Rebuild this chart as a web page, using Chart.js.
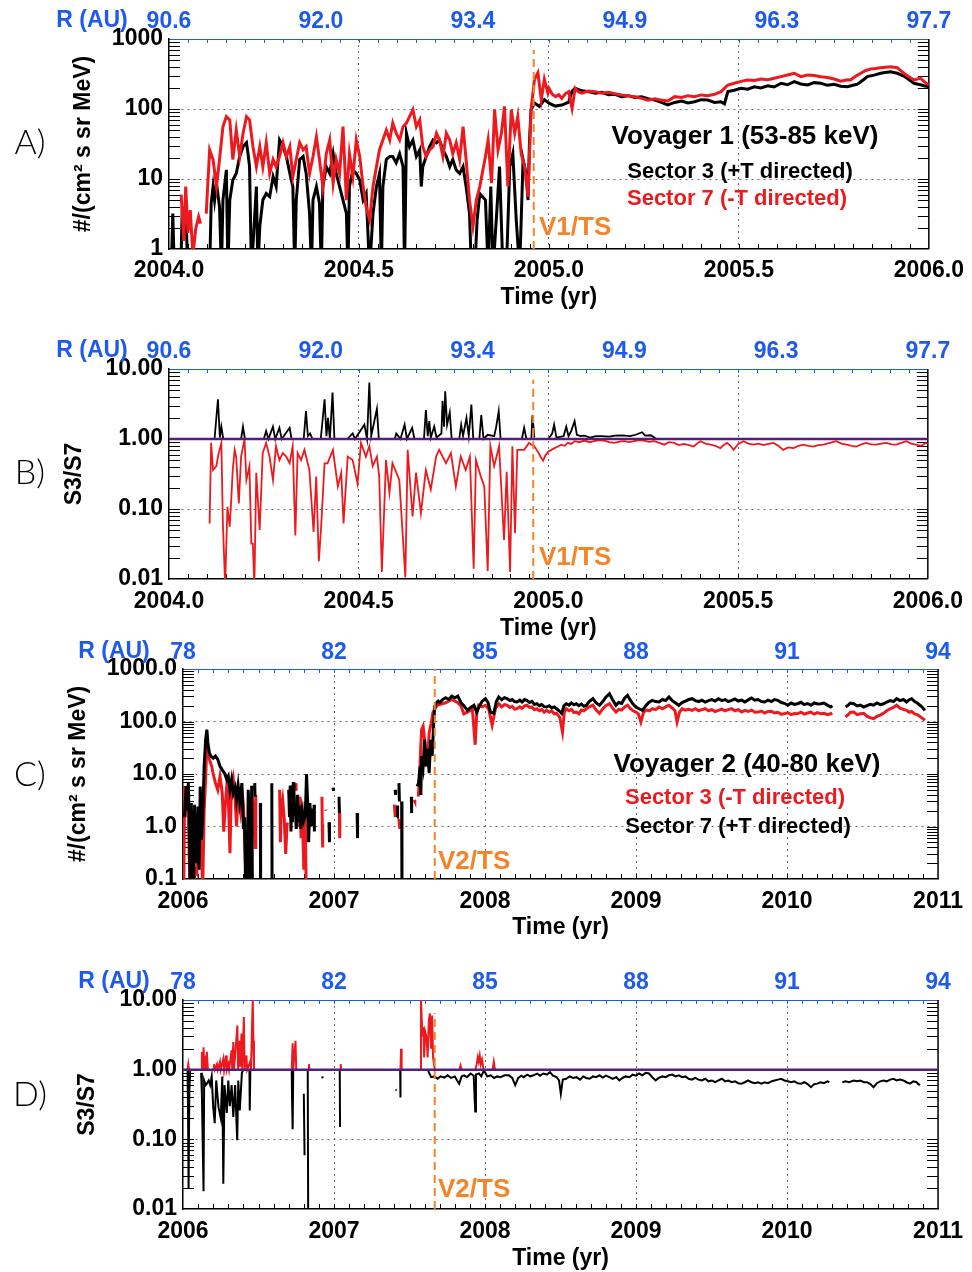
<!DOCTYPE html>
<html>
<head>
<meta charset="utf-8">
<script src="https://cdn.jsdelivr.net/npm/chart.js@4.4.1/dist/chart.umd.min.js"></script>
<style>
  html, body { margin: 0; padding: 0; background: #fff; }
  #page { position: relative; width: 972px; height: 1272px; background: #fff; overflow: hidden; }
  #page canvas { position: absolute; left: 0; }
</style>
</head>
<body>
<div id="page">
  <canvas id="panelA"></canvas>
  <canvas id="panelB"></canvas>
  <canvas id="panelC"></canvas>
  <canvas id="panelD"></canvas>
</div>
<script>
// --- axes: Voyager 1 (A, B) and Voyager 2 (C, D)
const v1TimeTicks = [2004.0, 2004.5, 2005.0, 2005.5, 2006.0];
const v1TimeLabels = ['2004.0', '2004.5', '2005.0', '2005.5', '2006.0'];
const v1RadiusTicks = [2004.0, 2004.4, 2004.8, 2005.2, 2005.6, 2006.0];
const v1RadiusLabels = ['90.6', '92.0', '93.4', '94.9', '96.3', '97.7'];
const v1TsYear = 2004.96;

const v2TimeTicks = [2006, 2007, 2008, 2009, 2010, 2011];
const v2TimeLabels = ['2006', '2007', '2008', '2009', '2010', '2011'];
const v2RadiusTicks = [2006, 2007, 2008, 2009, 2010, 2011];
const v2RadiusLabels = ['78', '82', '85', '88', '91', '94'];
const v2TsYear = 2007.667;

const v1FluxTicks = [1, 10, 100, 1000];
const v1FluxLabels = ['1', '10', '100', '1000'];
const v2FluxTicks = [0.1, 1, 10, 100, 1000];
const v2FluxLabels = ['0.1', '1.0', '10.0', '100.0', '1000.0'];
const ratioTicks = [0.01, 0.1, 1, 10];
const ratioLabels = ['0.01', '0.10', '1.00', '10.00'];

// --- A) Voyager 1 53-85 keV intensities, [year, flux]
const v1S7Flux = [
  [2004.032,6.0],[2004.039,1.3],[2004.044,7.8],[2004.050,1.7],[2004.056,3.6],[2004.063,0.8],[2004.070,1.9],[2004.078,2.9],[2004.083,2.3],[2004.090,null],
  [2004.098,3.2],[2004.107,26],[2004.116,19],[2004.125,7.8],[2004.133,19],[2004.142,56],[2004.151,78],[2004.160,70],[2004.168,19],[2004.177,50],
  [2004.186,21],[2004.195,45],[2004.204,78],[2004.212,70],[2004.221,29],[2004.230,15],[2004.239,29],[2004.247,15],[2004.256,33],[2004.265,12],
  [2004.274,19],[2004.282,15],[2004.291,21],[2004.300,33],[2004.309,21],[2004.318,29],[2004.326,10.8],[2004.335,19],[2004.344,33],[2004.353,26],
  [2004.361,29],[2004.370,12],[2004.379,21],[2004.388,40],[2004.396,19],[2004.405,7.8],[2004.414,23],[2004.423,36],[2004.432,8.7],[2004.440,19],
  [2004.449,12],[2004.458,56],[2004.467,5.0],[2004.475,23],[2004.484,10.8],[2004.493,36],[2004.502,21],[2004.511,7.8],[2004.519,4.0],[2004.528,2.6],
  [2004.537,7.8],[2004.546,15],[2004.554,26],[2004.563,36],[2004.572,50],[2004.581,36],[2004.589,63],[2004.598,45],[2004.607,36],[2004.616,56],
  [2004.625,63],[2004.633,78],[2004.642,98],[2004.651,56],[2004.660,70],[2004.668,29],[2004.677,21],[2004.686,26],[2004.695,29],[2004.704,45],
  [2004.712,36],[2004.721,21],[2004.730,45],[2004.739,36],[2004.747,23],[2004.756,33],[2004.765,19],[2004.774,56],[2004.782,19],[2004.791,5.0],
  [2004.800,2.1],[2004.809,5.0],[2004.818,7.8],[2004.833,21],[2004.840,36],[2004.849,8.7],[2004.857,98],[2004.866,26],[2004.875,45],[2004.883,109],
  [2004.892,7.8],[2004.901,98],[2004.910,45],[2004.918,78],[2004.927,23],[2004.936,15],[2004.945,5.6],[2004.953,98],[2004.962,265],[2004.971,330],
  [2004.980,136],[2004.988,265],[2004.997,170],
  [2005.000,198],[2005.008,165],[2005.017,150],[2005.026,160],[2005.034,142],[2005.043,165],[2005.052,177],[2005.061,102],[2005.069,198],[2005.078,175],
  [2005.087,168],[2005.104,180],[2005.122,177],[2005.139,168],[2005.157,173],[2005.174,165],[2005.191,159],[2005.209,154],[2005.226,150],[2005.244,142],
  [2005.261,134],[2005.279,140],[2005.296,134],[2005.313,130],[2005.331,150],[2005.349,146],[2005.366,155],[2005.383,150],[2005.401,159],[2005.418,155],
  [2005.436,162],[2005.453,177],[2005.471,220],[2005.488,233],[2005.506,248],[2005.523,260],[2005.541,255],[2005.558,268],[2005.576,262],[2005.593,275],
  [2005.611,290],[2005.628,306],[2005.646,324],[2005.663,290],[2005.681,305],[2005.698,300],[2005.716,288],[2005.733,281],[2005.751,268],[2005.768,250],
  [2005.786,262],[2005.794,260],[2005.808,295],[2005.821,324],[2005.834,355],[2005.847,373],[2005.860,380],[2005.873,389],[2005.886,395],[2005.899,402],
  [2005.917,389],[2005.934,324],[2005.947,290],[2005.961,260],[2005.978,275],[2005.990,240],[2006.000,220]
];
const v1S3Flux = [
  [2004.006,0.5],[2004.010,3.2],[2004.014,0.5],[2004.020,null],
  [2004.031,0.5],[2004.035,4.0],[2004.040,1.9],[2004.044,5.0],[2004.049,0.5],[2004.060,null],
  [2004.107,0.5],[2004.111,4.5],[2004.116,7.8],[2004.120,5.0],[2004.125,8.7],[2004.133,4.0],[2004.138,0.5],[2004.142,5.0],[2004.151,13.5],[2004.155,0.5],
  [2004.160,5.0],[2004.168,9.7],[2004.177,12],[2004.186,21],[2004.195,29],[2004.204,33],[2004.208,23],[2004.212,15],[2004.217,0.5],[2004.223,1.7],
  [2004.230,7.8],[2004.234,0.5],[2004.239,2.1],[2004.247,5.0],[2004.256,6.2],[2004.265,5.6],[2004.274,10.8],[2004.282,7.8],[2004.291,36],[2004.300,29],
  [2004.309,21],[2004.318,12],[2004.326,7.8],[2004.331,0.5],[2004.335,5.0],[2004.344,19],[2004.353,21],[2004.361,12],[2004.370,3.2],[2004.375,0.5],
  [2004.379,5.0],[2004.388,7.8],[2004.396,4.5],[2004.401,0.5],[2004.405,7.8],[2004.414,15],[2004.423,12],[2004.432,23],[2004.440,12],[2004.449,7.8],
  [2004.458,5.0],[2004.467,3.2],[2004.471,0.5],[2004.475,7.8],[2004.484,13.5],[2004.493,12],[2004.502,9.7],[2004.511,5.0],[2004.519,6.2],[2004.528,0.5],
  [2004.537,3.2],[2004.546,7.8],[2004.554,12],[2004.559,0.5],[2004.563,7.8],[2004.572,19],[2004.581,21],[2004.589,21],[2004.598,17],[2004.607,23],
  [2004.616,15],[2004.620,0.5],[2004.625,45],[2004.633,29],[2004.642,36],[2004.651,21],[2004.660,26],[2004.664,7.8],[2004.668,15],[2004.677,21],
  [2004.686,29],[2004.695,36],[2004.704,33],[2004.712,36],[2004.721,26],[2004.730,21],[2004.739,15],[2004.747,19],[2004.756,13.5],[2004.765,12],
  [2004.774,15],[2004.782,7.8],[2004.791,3.2],[2004.796,0.5],[2004.805,0.5],[2004.811,2.6],[2004.818,6.2],[2004.833,5.0],[2004.840,0.5],[2004.847,7.8],
  [2004.853,0.5],[2004.862,2.9],[2004.870,15],[2004.879,0.5],[2004.888,0.5],[2004.897,15],[2004.905,23],[2004.914,2.6],[2004.923,0.5],[2004.932,19],
  [2004.940,12],[2004.945,5.0],[2004.949,36],[2004.953,98],[2004.962,122],[2004.975,109],[2004.988,136],
  [2005.000,121],[2005.017,110],[2005.034,114],[2005.052,125],[2005.061,180],[2005.069,198],[2005.087,182],[2005.104,177],[2005.122,168],[2005.139,173],
  [2005.157,160],[2005.174,162],[2005.191,150],[2005.209,155],[2005.226,146],[2005.244,150],[2005.261,140],[2005.279,134],[2005.296,124],[2005.313,114],
  [2005.331,124],[2005.349,130],[2005.366,122],[2005.383,127],[2005.401,136],[2005.418,134],[2005.436,124],[2005.453,127],[2005.462,118],[2005.471,177],
  [2005.488,185],[2005.506,198],[2005.523,192],[2005.541,208],[2005.558,200],[2005.576,215],[2005.593,206],[2005.611,233],[2005.628,222],[2005.646,246],
  [2005.663,228],[2005.681,220],[2005.698,238],[2005.716,233],[2005.733,218],[2005.751,226],[2005.768,212],[2005.786,208],[2005.803,220],[2005.812,226],
  [2005.828,262],[2005.838,290],[2005.856,305],[2005.873,324],[2005.890,335],[2005.899,341],[2005.917,324],[2005.934,296],[2005.943,275],[2005.961,233],
  [2005.978,222],[2005.987,215],[2006.000,208]
];

// --- B) Voyager 1 ratio S3/S7: above 1 (black) and below 1 (red)
const v1RatioAbove = [
  [2004.120,1],[2004.129,3.7],[2004.134,1.05],[2004.138,1.5],[2004.143,1],[2004.170,null],
  [2004.190,1],[2004.195,1.5],[2004.200,1],[2004.225,null],
  [2004.250,1],[2004.256,1.3],[2004.262,1],[2004.274,1.5],[2004.280,1],[2004.291,1.45],[2004.297,1],[2004.318,1.45],[2004.323,1],[2004.340,null],
  [2004.355,1],[2004.361,2.5],[2004.366,1.1],[2004.372,1.2],[2004.378,1],[2004.390,null],
  [2004.400,1],[2004.410,3.7],[2004.415,1.1],[2004.419,2.0],[2004.424,1],[2004.431,4.6],[2004.436,1],[2004.455,null],
  [2004.470,1],[2004.484,1.2],[2004.490,1],[2004.515,1.6],[2004.522,1],[2004.528,6.4],[2004.533,1.1],[2004.548,2.7],[2004.553,1],[2004.575,null],
  [2004.595,1],[2004.599,1.2],[2004.610,1],[2004.621,1.6],[2004.627,1],[2004.641,1.44],[2004.647,1],[2004.660,null],
  [2004.672,1],[2004.677,2.6],[2004.682,1.1],[2004.686,1.8],[2004.690,1.05],[2004.699,1.5],[2004.705,1.05],[2004.718,1.2],[2004.721,3.5],[2004.725,1.5],
  [2004.728,4.8],[2004.733,1.6],[2004.740,2.4],[2004.745,1],[2004.755,null],
  [2004.765,1],[2004.770,1.6],[2004.775,1.1],[2004.784,2.0],[2004.790,1.1],[2004.797,3.1],[2004.802,1],[2004.812,null],
  [2004.818,1],[2004.823,2.2],[2004.829,1],[2004.840,1.15],[2004.857,1.1],[2004.862,1.45],[2004.869,2.5],[2004.874,1],[2004.900,null],
  [2004.930,1],[2004.936,1.45],[2004.942,1],[2004.950,null],
  [2004.955,1],[2004.958,2.2],[2004.963,1.05],[2004.980,null],
  [2005.000,1],[2005.010,1.2],[2005.015,1.6],[2005.021,1.05],[2005.040,1.1],[2005.047,1.5],[2005.053,1.1],[2005.060,1.3],[2005.069,1.8],[2005.075,1.15],
  [2005.085,1.1],[2005.095,1.12],[2005.110,1.05],[2005.125,1.1],[2005.140,1.1],[2005.160,1.08],[2005.175,1.12],[2005.195,1.13],[2005.215,1.1],[2005.230,1.15],
  [2005.247,1.25],[2005.255,1.12],[2005.270,1.13],[2005.285,1.0],[2006.000,1.0]
];
const v1RatioBelow = [
  [2004.107,0.062],[2004.111,0.88],[2004.116,0.36],[2004.125,0.41],[2004.129,0.56],[2004.138,0.88],[2004.142,0.062],[2004.148,0.008],[2004.154,0.108],[2004.160,0.056],
  [2004.164,0.135],[2004.168,0.36],[2004.173,0.70],[2004.177,0.56],[2004.184,0.12],[2004.190,0.56],[2004.199,0.98],[2004.204,0.26],[2004.212,0.41],[2004.217,0.032],
  [2004.221,0.032],[2004.225,0.008],[2004.230,0.33],[2004.239,0.05],[2004.247,0.63],[2004.256,0.88],[2004.265,0.56],[2004.274,0.26],[2004.282,0.79],[2004.291,0.50],
  [2004.300,0.63],[2004.309,0.56],[2004.318,0.45],[2004.326,0.79],[2004.333,0.042],[2004.339,0.63],[2004.348,0.50],[2004.357,0.70],[2004.370,0.36],[2004.381,0.047],
  [2004.388,0.29],[2004.395,0.018],[2004.401,0.056],[2004.410,0.45],[2004.418,0.45],[2004.432,0.70],[2004.445,0.21],[2004.454,0.33],[2004.460,0.062],[2004.471,0.56],
  [2004.484,0.50],[2004.497,0.23],[2004.506,0.88],[2004.519,0.56],[2004.528,0.79],[2004.537,0.41],[2004.548,0.56],[2004.554,0.29],[2004.561,0.0126],[2004.572,0.50],
  [2004.581,0.17],[2004.589,0.45],[2004.607,0.26],[2004.623,0.0105],[2004.629,0.70],[2004.642,0.078],[2004.651,0.33],[2004.664,0.087],[2004.677,0.36],[2004.690,0.19],
  [2004.704,0.56],[2004.712,0.70],[2004.730,0.45],[2004.743,0.63],[2004.756,0.21],[2004.769,0.56],[2004.782,0.36],[2004.793,0.56],[2004.803,0.014],[2004.809,0.50],
  [2004.822,0.29],[2004.831,0.21],[2004.840,0.013],[2004.847,0.79],[2004.857,0.41],[2004.870,0.79],[2004.883,0.036],[2004.890,0.34],[2004.899,0.0126],[2004.905,0.79],
  [2004.912,0.045],[2004.918,0.70],[2004.936,0.70],[2004.949,0.88],[2004.955,0.83],[2004.962,0.80],[2004.972,0.66],[2004.980,0.55],[2004.986,0.49],[2004.992,0.58],
  [2004.999,0.66],[2005.008,0.70],[2005.016,0.74],[2005.025,0.78],[2005.034,0.83],[2005.043,0.80],[2005.051,0.88],[2005.060,0.85],[2005.069,0.93],[2005.082,0.90],
  [2005.095,0.95],[2005.108,0.90],[2005.121,0.93],[2005.134,0.96],[2005.147,0.95],[2005.160,0.90],[2005.174,0.88],[2005.187,0.92],[2005.200,0.93],[2005.213,0.90],
  [2005.226,0.93],[2005.239,0.96],[2005.252,0.95],[2005.265,0.91],[2005.279,0.93],[2005.292,0.88],[2005.305,0.83],[2005.318,0.90],[2005.331,0.88],[2005.344,0.82],
  [2005.357,0.85],[2005.370,0.82],[2005.383,0.78],[2005.392,0.86],[2005.401,0.93],[2005.414,0.86],[2005.427,0.83],[2005.440,0.80],[2005.453,0.74],[2005.462,0.82],
  [2005.471,0.88],[2005.480,0.80],[2005.488,0.70],[2005.500,0.84],[2005.514,0.93],[2005.527,0.86],[2005.541,0.83],[2005.554,0.86],[2005.567,0.82],[2005.580,0.85],
  [2005.593,0.88],[2005.606,0.80],[2005.619,0.70],[2005.632,0.76],[2005.646,0.74],[2005.659,0.80],[2005.672,0.83],[2005.685,0.80],[2005.698,0.78],[2005.711,0.82],
  [2005.725,0.83],[2005.742,0.88],[2005.759,0.93],[2005.772,0.86],[2005.786,0.83],[2005.799,0.80],[2005.812,0.78],[2005.825,0.84],[2005.838,0.88],[2005.851,0.84],
  [2005.864,0.83],[2005.877,0.86],[2005.891,0.88],[2005.904,0.84],[2005.917,0.83],[2005.930,0.88],[2005.943,0.93],[2005.956,0.86],[2005.969,0.83],[2005.982,0.80],
  [2005.995,0.88],[2006.000,0.86]
];

// --- C) Voyager 2 40-80 keV intensities, [year, flux]
const v2S7Flux = [
  [2006.010,1.5],[2006.015,3.0],[2006.022,5.8],[2006.030,2.0],[2006.035,6.7],[2006.042,1.3],[2006.048,0.05],[2006.055,2.8],[2006.062,0.3],[2006.070,0.05],
  [2006.077,2.6],[2006.085,0.2],[2006.092,0.5],[2006.100,2.4],[2006.107,0.15],[2006.114,5.8],[2006.122,0.56],[2006.130,1.3],[2006.140,14],[2006.150,45],
  [2006.158,70],[2006.165,39],[2006.175,25],[2006.185,22],[2006.200,20],[2006.215,22],[2006.230,19],[2006.245,14],[2006.260,12],[2006.275,10.4],
  [2006.290,7.8],[2006.300,9.0],[2006.311,5.0],[2006.322,7.8],[2006.333,4.3],[2006.345,5.5],[2006.354,3.2],[2006.365,6.0],[2006.376,3.0],[2006.390,6.7],
  [2006.400,0.9],[2006.408,1.5],[2006.415,0.05],[2006.425,0.05],[2006.432,5.0],[2006.440,1.2],[2006.447,0.05],[2006.455,6.0],[2006.460,0.05],[2006.468,null],
  [2006.475,6.7],[2006.477,3.7],[2006.490,null],
  [2006.512,2.8],[2006.514,0.05],[2006.550,null],
  [2006.588,6.7],[2006.590,0.05],[2006.650,null],
  [2006.700,5.0],[2006.705,1.5],[2006.710,6.0],[2006.715,0.8],[2006.720,4.5],[2006.725,1.2],[2006.730,7.0],[2006.735,1.6],[2006.742,3.0],[2006.750,0.9],
  [2006.757,4.0],[2006.765,1.2],[2006.772,2.5],[2006.780,0.9],[2006.790,2.0],[2006.800,1.3],[2006.810,1.6],[2006.818,10.0],[2006.825,3.2],[2006.832,0.5],
  [2006.840,2.8],[2006.850,1.0],[2006.856,2.2],[2006.862,null],
  [2006.868,2.6],[2006.870,0.8],[2006.900,null],
  [2006.967,1.2],[2006.970,0.5],[2006.980,null],
  [2006.994,5.5],[2006.996,4.8],[2007.010,null],
  [2007.033,3.7],[2007.036,1.8],[2007.090,null],
  [2007.153,1.8],[2007.156,0.6],[2007.300,null],
  [2007.405,5.0],[2007.408,4.0],[2007.412,null],
  [2007.418,1.5],[2007.421,2.5],[2007.425,null],
  [2007.430,6.7],[2007.433,3.0],[2007.440,null],
  [2007.448,3.0],[2007.450,0.05],[2007.480,null],
  [2007.512,3.7],[2007.514,1.8],[2007.525,null],
  [2007.550,5.8],[2007.560,6.7],[2007.570,14],[2007.575,4.0],[2007.580,22],[2007.590,14],[2007.600,45],[2007.610,14],[2007.620,30],[2007.630,10.4],
  [2007.640,45],[2007.650,22],[2007.660,90],[2007.667,196],[2007.680,230],[2007.690,245],[2007.700,230],[2007.720,263],[2007.740,283],[2007.760,263],
  [2007.780,305],[2007.800,283],[2007.820,305],[2007.840,230],[2007.860,200],
  [2007.883,163],[2007.905,185],[2007.927,204],[2007.945,150],[2007.960,190],[2007.980,240],[2008.003,272],[2008.020,230],[2008.036,151],[2008.058,143],
  [2008.075,240],[2008.091,293],[2008.110,260],[2008.128,285],[2008.146,272],[2008.165,250],[2008.180,262],[2008.196,240],[2008.211,235],[2008.230,255],
  [2008.245,236],[2008.262,262],[2008.277,253],[2008.295,230],[2008.310,242],[2008.327,212],[2008.343,218],[2008.360,200],[2008.375,210],[2008.392,192],
  [2008.408,189],[2008.425,200],[2008.441,182],[2008.458,190],[2008.474,175],[2008.490,160],[2008.507,143],[2008.523,200],[2008.539,218],[2008.556,205],
  [2008.572,225],[2008.589,208],[2008.605,218],[2008.622,200],[2008.638,215],[2008.655,195],[2008.671,204],[2008.690,240],[2008.714,272],[2008.736,225],
  [2008.758,204],[2008.780,240],[2008.800,290],[2008.824,338],[2008.845,260],[2008.867,204],[2008.885,230],[2008.905,220],[2008.925,280],[2008.944,315],
  [2008.960,260],[2008.980,215],[2008.999,189],[2009.020,175],[2009.043,163],[2009.065,200],[2009.085,230],[2009.108,253],[2009.130,240],[2009.152,235],
  [2009.175,262],[2009.196,250],[2009.218,293],[2009.240,250],[2009.262,225],[2009.283,204],[2009.305,230],[2009.327,245],[2009.349,262],[2009.371,272],
  [2009.393,250],[2009.415,240],[2009.436,255],[2009.458,235],[2009.480,250],[2009.502,262],[2009.524,245],[2009.546,272],[2009.568,250],[2009.590,262],
  [2009.611,240],[2009.633,253],[2009.655,268],[2009.677,245],[2009.699,255],[2009.721,235],[2009.743,258],[2009.765,280],[2009.787,255],[2009.808,262],
  [2009.830,240],[2009.852,235],[2009.874,255],[2009.896,240],[2009.917,262],[2009.939,253],[2009.961,230],[2009.983,222],[2010.005,204],[2010.027,225],
  [2010.048,212],[2010.070,218],[2010.092,232],[2010.114,210],[2010.136,220],[2010.158,204],[2010.180,225],[2010.202,215],[2010.224,218],[2010.245,225],
  [2010.267,205],[2010.289,189],[2010.300,200],[2010.340,null],
  [2010.388,189],[2010.405,205],[2010.420,225],[2010.442,218],[2010.464,198],[2010.486,205],[2010.508,189],[2010.530,200],[2010.552,212],[2010.573,204],
  [2010.595,225],[2010.617,210],[2010.639,218],[2010.660,235],[2010.683,250],[2010.705,240],[2010.726,272],[2010.748,250],[2010.770,262],[2010.792,235],
  [2010.810,260],[2010.825,272],[2010.845,240],[2010.862,225],[2010.880,204],[2010.897,185],[2010.913,163]
];
const v2S3Flux = [
  [2006.000,5.8],[2006.005,0.05],[2006.010,3.0],[2006.018,1.5],[2006.026,3.7],[2006.035,1.8],[2006.042,0.2],[2006.048,0.05],[2006.060,0.6],[2006.070,0.05],
  [2006.080,0.15],[2006.092,0.13],[2006.100,1.0],[2006.110,0.3],[2006.120,1.3],[2006.130,0.05],[2006.140,2.0],[2006.150,8.0],[2006.158,36],[2006.165,25],
  [2006.175,19],[2006.190,14],[2006.200,10],[2006.215,6.7],[2006.230,5.0],[2006.245,9.0],[2006.260,4.3],[2006.270,0.8],[2006.280,2.6],[2006.290,6.0],
  [2006.300,3.7],[2006.311,0.31],[2006.320,5.0],[2006.333,8.0],[2006.345,3.2],[2006.355,1.0],[2006.365,4.0],[2006.380,2.0],[2006.390,5.0],[2006.400,2.6],
  [2006.410,0.4],[2006.420,0.05],[2006.440,null],
  [2006.460,3.7],[2006.470,1.0],[2006.478,0.4],[2006.482,4.0],[2006.560,null],
  [2006.640,5.0],[2006.645,0.5],[2006.650,2.0],[2006.660,3.2],[2006.670,1.5],[2006.680,0.3],[2006.690,1.2],[2006.720,null],
  [2006.748,6.7],[2006.750,4.8],[2006.755,null],
  [2006.760,4.0],[2006.765,1.0],[2006.775,3.7],[2006.782,0.6],[2006.790,2.0],[2006.800,0.15],[2006.808,3.0],[2006.815,0.1],[2006.825,0.05],[2006.835,0.05],[2006.870,null],
  [2006.920,3.7],[2006.922,1.1],[2006.925,0.4],[2006.935,null],
  [2006.945,2.1],[2006.947,2.0],[2006.990,null],
  [2007.036,1.8],[2007.038,0.6],[2007.200,null],
  [2007.400,2.6],[2007.405,1.5],[2007.415,null],
  [2007.430,1.4],[2007.435,0.9],[2007.480,null],
  [2007.530,3.2],[2007.535,3.0],[2007.545,null],
  [2007.558,3.7],[2007.566,8.0],[2007.574,30],[2007.580,70],[2007.590,81],[2007.600,45],[2007.610,20],[2007.624,30],[2007.630,60],[2007.646,101],
  [2007.655,150],[2007.667,170],[2007.680,200],[2007.700,211],[2007.720,220],[2007.740,227],[2007.760,245],[2007.780,263],[2007.800,245],[2007.820,227],
  [2007.840,200],[2007.860,140],
  [2007.883,151],[2007.900,160],[2007.916,175],[2007.935,36],[2007.945,140],[2007.958,204],[2007.980,190],[2008.003,204],[2008.025,170],[2008.047,85],
  [2008.070,180],[2008.091,218],[2008.110,190],[2008.128,210],[2008.146,204],[2008.165,185],[2008.180,195],[2008.196,172],[2008.211,175],[2008.230,190],
  [2008.245,178],[2008.262,198],[2008.277,204],[2008.295,185],[2008.310,190],[2008.327,168],[2008.343,175],[2008.360,160],[2008.375,170],[2008.392,150],
  [2008.408,163],[2008.425,150],[2008.441,160],[2008.458,140],[2008.474,143],[2008.495,120],[2008.513,63],[2008.525,150],[2008.539,175],[2008.556,160],
  [2008.572,170],[2008.589,148],[2008.605,151],[2008.622,140],[2008.638,165],[2008.655,160],[2008.671,175],[2008.690,190],[2008.714,204],[2008.736,165],
  [2008.758,143],[2008.780,175],[2008.800,200],[2008.824,218],[2008.845,180],[2008.867,151],[2008.885,170],[2008.905,165],[2008.925,190],[2008.944,204],
  [2008.960,180],[2008.980,160],[2008.999,151],[2009.015,140],[2009.032,98],[2009.050,150],[2009.070,165],[2009.090,160],[2009.108,175],[2009.130,168],
  [2009.152,189],[2009.175,175],[2009.196,190],[2009.218,204],[2009.240,180],[2009.258,160],[2009.272,98],[2009.288,150],[2009.305,175],[2009.327,165],
  [2009.349,170],[2009.371,163],[2009.393,175],[2009.415,160],[2009.436,168],[2009.458,175],[2009.480,160],[2009.502,168],[2009.524,155],[2009.546,163],
  [2009.568,172],[2009.590,160],[2009.611,168],[2009.633,175],[2009.655,160],[2009.677,168],[2009.699,152],[2009.721,163],[2009.743,155],[2009.765,165],
  [2009.787,150],[2009.808,151],[2009.830,158],[2009.852,145],[2009.874,155],[2009.896,156],[2009.917,145],[2009.939,150],[2009.961,138],[2009.983,140],
  [2010.005,148],[2010.027,135],[2010.048,142],[2010.070,140],[2010.092,150],[2010.114,138],[2010.136,145],[2010.158,151],[2010.180,138],[2010.202,148],
  [2010.224,140],[2010.245,143],[2010.267,135],[2010.289,140],[2010.300,145],[2010.340,null],
  [2010.388,122],[2010.405,135],[2010.420,150],[2010.442,151],[2010.464,135],[2010.486,140],[2010.508,143],[2010.530,125],[2010.552,118],[2010.573,113],
  [2010.595,125],[2010.617,132],[2010.639,143],[2010.660,160],[2010.683,175],[2010.705,185],[2010.726,204],[2010.748,180],[2010.770,170],[2010.792,163],
  [2010.810,150],[2010.825,155],[2010.845,140],[2010.862,135],[2010.880,125],[2010.897,115],[2010.913,105]
];

// --- D) Voyager 2 ratio S3/S7: above 1 (red) and below 1 (black)
const v2RatioAbove = [
  [2006.030,1],[2006.035,1.2],[2006.040,1],[2006.080,null],
  [2006.120,1],[2006.125,1.8],[2006.130,1],[2006.136,2.1],[2006.142,1],[2006.147,1.6],[2006.152,1],[2006.158,1.8],[2006.165,1],[2006.180,null],
  [2006.200,1],[2006.205,1.2],[2006.210,1],[2006.225,1.2],[2006.230,1],[2006.245,1.3],[2006.250,1],[2006.267,1.44],[2006.272,1],[2006.285,1.6],
  [2006.290,1],[2006.300,1.2],[2006.305,1],[2006.322,1.9],[2006.326,1],[2006.333,2.5],[2006.338,1],[2006.360,4.3],[2006.365,1],[2006.376,2.6],
  [2006.380,1.1],[2006.387,3.3],[2006.392,1],[2006.403,5.7],[2006.408,1],[2006.420,1.6],[2006.425,1],[2006.445,1.3],[2006.450,1],[2006.462,10.5],
  [2006.466,2.6],[2006.470,1],[2006.600,null],
  [2006.720,1],[2006.726,2.4],[2006.730,1],[2006.745,2.6],[2006.750,1],[2006.790,null],
  [2006.830,1],[2006.834,1.2],[2006.838,1],[2006.900,null],
  [2007.040,1],[2007.044,1.2],[2007.048,1],[2007.200,null],
  [2007.440,1],[2007.444,2.0],[2007.448,1],[2007.500,null],
  [2007.572,1],[2007.576,10.5],[2007.585,3.0],[2007.591,4.1],[2007.597,1.5],[2007.604,3.5],[2007.613,2.9],[2007.620,1.5],[2007.628,5.0],[2007.635,6.4],
  [2007.642,2.0],[2007.650,6.0],[2007.656,1.5],[2007.662,1.2],[2007.668,1],[2007.750,null],
  [2007.830,1],[2007.838,1.15],[2007.845,1],[2007.900,null],
  [2007.935,1],[2007.945,1.2],[2007.952,1.5],[2007.958,1.3],[2007.965,1.6],[2007.972,1.2],[2007.980,1.4],[2007.990,1],[2008.020,null],
  [2008.050,1],[2008.058,1.3],[2008.066,1]
];
const v2RatioBelow = [
  [2006.030,1],[2006.033,0.29],[2006.037,0.02],[2006.042,0.5],[2006.048,1],[2006.080,null],
  [2006.120,0.9],[2006.125,0.45],[2006.136,0.018],[2006.140,0.7],[2006.150,0.6],[2006.158,0.63],[2006.170,0.7],[2006.180,0.6],[2006.190,0.8],[2006.200,0.29],
  [2006.210,0.17],[2006.220,0.7],[2006.235,0.29],[2006.250,0.2],[2006.260,0.8],[2006.267,0.023],[2006.275,0.6],[2006.290,0.24],[2006.300,0.7],[2006.310,0.3],
  [2006.322,0.6],[2006.333,0.21],[2006.345,0.6],[2006.359,0.097],[2006.366,0.7],[2006.376,0.26],[2006.390,0.9],[2006.400,1],[2006.420,null],
  [2006.440,1],[2006.442,0.26],[2006.446,1],[2006.600,null],
  [2006.720,1],[2006.722,0.4],[2006.726,0.14],[2006.730,1],[2006.770,null],
  [2006.800,0.45],[2006.805,0.059],[2006.815,null],
  [2006.826,1],[2006.829,0.008],[2006.860,null],
  [2006.922,0.8],[2006.924,0.75],[2006.990,null],
  [2007.038,1],[2007.040,0.15],[2007.200,null],
  [2007.410,0.52],[2007.413,0.5],[2007.425,null],
  [2007.438,1],[2007.440,0.4],[2007.500,null],
  [2007.620,1],[2007.643,0.78],[2007.665,0.80],[2007.686,0.74],[2007.705,0.80],[2007.730,0.77],[2007.752,0.83],[2007.775,0.76],[2007.800,0.80],[2007.815,0.70],
  [2007.829,0.63],[2007.845,0.80],[2007.861,0.83],[2007.880,0.78],[2007.905,0.88],[2007.925,0.82],[2007.935,0.25],[2007.940,0.85],[2007.960,0.88],[2007.975,0.80],
  [2007.993,0.98],[2008.015,0.80],[2008.037,0.83],[2008.060,0.76],[2008.080,0.80],[2008.102,0.78],[2008.130,0.83],[2008.157,0.83],[2008.180,0.76],[2008.200,0.60],
  [2008.220,0.76],[2008.240,0.82],[2008.255,0.78],[2008.280,0.85],[2008.300,0.80],[2008.320,0.83],[2008.345,0.88],[2008.365,0.82],[2008.386,0.88],[2008.410,0.85],
  [2008.430,0.92],[2008.450,0.82],[2008.474,0.78],[2008.490,0.70],[2008.502,0.45],[2008.515,0.72],[2008.537,0.74],[2008.560,0.80],[2008.583,0.76],[2008.605,0.78],
  [2008.630,0.72],[2008.650,0.80],[2008.670,0.76],[2008.692,0.74],[2008.715,0.80],[2008.735,0.78],[2008.758,0.83],[2008.780,0.77],[2008.800,0.82],[2008.824,0.78],
  [2008.845,0.74],[2008.870,0.78],[2008.889,0.70],[2008.910,0.76],[2008.932,0.80],[2008.955,0.78],[2008.978,0.85],[2009.000,0.82],[2009.020,0.88],[2009.042,0.83],
  [2009.064,0.90],[2009.086,0.88],[2009.108,0.78],[2009.130,0.70],[2009.150,0.76],[2009.175,0.80],[2009.196,0.78],[2009.217,0.83],[2009.240,0.85],[2009.262,0.80],
  [2009.283,0.83],[2009.305,0.78],[2009.327,0.80],[2009.348,0.74],[2009.370,0.72],[2009.392,0.76],[2009.414,0.72],[2009.436,0.70],[2009.458,0.74],[2009.480,0.68],
  [2009.502,0.70],[2009.524,0.66],[2009.546,0.70],[2009.568,0.74],[2009.590,0.68],[2009.611,0.70],[2009.633,0.66],[2009.655,0.68],[2009.677,0.64],[2009.699,0.63],
  [2009.720,0.66],[2009.742,0.70],[2009.764,0.66],[2009.786,0.64],[2009.808,0.66],[2009.830,0.63],[2009.852,0.66],[2009.874,0.64],[2009.896,0.68],[2009.917,0.70],
  [2009.939,0.72],[2009.961,0.74],[2009.983,0.70],[2010.005,0.68],[2010.027,0.66],[2010.048,0.68],[2010.070,0.64],[2010.093,0.63],[2010.115,0.66],[2010.136,0.62],
  [2010.158,0.56],[2010.180,0.62],[2010.201,0.63],[2010.222,0.66],[2010.245,0.64],[2010.267,0.68],[2010.280,0.66],[2010.320,null],
  [2010.366,0.66],[2010.388,0.68],[2010.410,0.66],[2010.442,0.70],[2010.464,0.68],[2010.486,0.70],[2010.508,0.66],[2010.530,0.66],[2010.552,0.62],[2010.573,0.56],
  [2010.595,0.64],[2010.617,0.68],[2010.639,0.70],[2010.660,0.68],[2010.683,0.72],[2010.705,0.74],[2010.726,0.70],[2010.748,0.72],[2010.770,0.70],[2010.792,0.66],
  [2010.814,0.63],[2010.836,0.68],[2010.858,0.66],[2010.870,0.62],[2010.880,0.60]
];

const FONT = '"Liberation Sans", Arial, Helvetica, sans-serif';
const RED = 'rgb(236,26,30)';
const BLUE = 'rgb(30,90,235)';
const ORANGE = 'rgb(245,132,40)';
const PURPLE = 'rgb(85,30,125)';
const GRID = '#666';

function bold(size) {
  return { family: FONT, size: size, weight: 'bold' };
}

// hide the grid line where it would sit on the frame
function innerOnly(min, max, color) {
  return c => {
    if (!c.tick) return color;
    const v = c.tick.value;
    return (v <= min * 1.000001 || v >= max * 0.999999) ? 'rgba(0,0,0,0)' : color;
  };
}

function series(data, color, width) {
  return { data: data, borderColor: color, borderWidth: width, pointRadius: 0, fill: false, spanGaps: false, tension: 0, clip: 0 };
}

function tsLine(year, y0, y1) {
  return { data: [[year, y0], [year, y1]], borderColor: ORANGE, borderWidth: 2, borderDash: [8, 5], pointRadius: 0, fill: false, clip: 0 };
}

function refLine(x0, x1) {
  return { data: [[x0, 1], [x1, 1]], borderColor: PURPLE, borderWidth: 2.5, pointRadius: 0, fill: false, clip: 0 };
}

// inward minor ticks, right frame and the free text of each panel
function decor(p) {
  return {
    id: 'decor',
    beforeDatasetsDraw(chart) {
      const { ctx, chartArea: a, scales } = chart;
      const x = scales.x, y = scales.y;
      ctx.save();
      ctx.lineWidth = 1;
      ctx.strokeStyle = '#000';
      ctx.beginPath();
      for (let k = Math.floor(Math.log10(p.yMin) + 1e-9); k < Math.log10(p.yMax) - 1e-9; k++) {
        for (let m = 1; m < 10; m++) {
          const v = m * Math.pow(10, k);
          if (v <= p.yMin * 1.0001 || v >= p.yMax * 0.9999) continue;
          const py = Math.round(y.getPixelForValue(v)) + 0.5;
          ctx.moveTo(a.left, py); ctx.lineTo(a.left + 11, py);
          ctx.moveTo(a.right, py); ctx.lineTo(a.right - 11, py);
        }
      }
      const n = Math.round((p.xMax - p.xMin) / p.xMinor);
      for (let i = 1; i < n; i++) {
        const px = Math.round(x.getPixelForValue(p.xMin + i * p.xMinor)) + 0.5;
        ctx.moveTo(px, a.bottom); ctx.lineTo(px, a.bottom - 5);
      }
      ctx.stroke();
      ctx.strokeStyle = BLUE;
      ctx.beginPath();
      for (let i = 1; i < n; i++) {
        const px = Math.round(x.getPixelForValue(p.xMin + i * p.xMinor)) + 0.5;
        ctx.moveTo(px, a.top); ctx.lineTo(px, a.top + 4);
      }
      ctx.stroke();
      ctx.lineWidth = 1.5;
      ctx.strokeStyle = '#000';
      ctx.beginPath();
      ctx.moveTo(a.right, a.top); ctx.lineTo(a.right, a.bottom);
      ctx.stroke();
      ctx.restore();
    },
    afterDraw(chart) {
      const ctx = chart.ctx;
      p.texts.forEach(t => {
        ctx.save();
        ctx.font = t.font;
        ctx.fillStyle = t.color;
        ctx.textAlign = t.align || 'center';
        ctx.textBaseline = 'middle';
        ctx.fillText(t.text, t.x, t.y - p.top);
        ctx.restore();
      });
    }
  };
}

function makePanel(p) {
  const canvas = document.getElementById(p.id);
  canvas.width = 972;
  canvas.height = p.height;
  canvas.style.top = p.top + 'px';
  const plotTop = p.plotTop - p.top;
  const plotBottom = p.plotBottom - p.top;

  new Chart(canvas, {
    type: 'line',
    data: { datasets: p.datasets },
    options: {
      responsive: false,
      animation: false,
      events: [],
      layout: { padding: { left: 0, right: 972 - p.plotRight, top: 0, bottom: 0 } },
      plugins: { legend: { display: false }, tooltip: { enabled: false } },
      scales: {
        x: {
          type: 'linear', position: 'bottom', min: p.xMin, max: p.xMax,
          afterBuildTicks: s => { s.ticks = p.xTicks.map(v => ({ value: v })); },
          afterFit: s => { s.height = p.height - plotBottom; },
          ticks: { autoSkip: false, maxRotation: 0, padding: p.xPad, color: '#000', font: bold(23),
                   callback: (v, i) => p.xLabels[i] },
          grid: { drawTicks: false, lineWidth: 1, color: innerOnly(p.xMin, p.xMax, GRID) },
          border: { display: true, color: '#000', width: 1.5, dash: [2, 4] },
          title: { display: true, text: 'Time (yr)', color: '#000', font: bold(23), padding: { top: 0, bottom: p.timePad } }
        },
        x2: {
          type: 'linear', position: 'top', min: p.xMin, max: p.xMax,
          afterBuildTicks: s => { s.ticks = p.rTicks.map(v => ({ value: v })); },
          afterFit: s => { s.height = plotTop; },
          ticks: { autoSkip: false, maxRotation: 0, padding: p.rPad, color: BLUE, font: bold(23),
                   callback: (v, i) => p.rLabels[i] },
          grid: { drawOnChartArea: false, drawTicks: false },
          border: { display: true, color: BLUE, width: 1 }
        },
        y: {
          type: 'logarithmic', position: 'left', min: p.yMin, max: p.yMax,
          afterBuildTicks: s => { s.ticks = p.yTicks.map(v => ({ value: v })); },
          afterFit: s => { s.width = p.plotLeft; },
          ticks: { autoSkip: false, padding: 6, color: '#000', font: bold(23),
                   callback: (v, i) => p.yLabels[i] },
          grid: { drawTicks: false, lineWidth: 1, color: innerOnly(p.yMin, p.yMax, GRID) },
          border: { display: true, color: '#000', width: 1.5, dash: [2, 4] },
          title: { display: true, text: p.yTitle, color: '#000', font: bold(23), padding: { top: p.yTitleX - 13.8, bottom: 0 } }
        }
      }
    },
    plugins: [decor(p)]
  });
}

const panelFont = '300 34px Lato, "DejaVu Sans", sans-serif';

makePanel({
  id: 'panelA', top: 0, height: 320, plotTop: 39, plotBottom: 249, plotLeft: 169, plotRight: 932,
  xMin: 2004, xMax: 2006, xMinor: 0.05, xTicks: v1TimeTicks, xLabels: v1TimeLabels, xPad: 8, timePad: 9,
  rTicks: v1RadiusTicks, rLabels: v1RadiusLabels, rPad: 4,
  yMin: 1, yMax: 1000, yTicks: v1FluxTicks, yLabels: v1FluxLabels,
  yTitle: '#/(cm\u00B2 s sr MeV)', yTitleX: 84,
  datasets: [
    tsLine(v1TsYear, 1, 700),
    series(v1S7Flux, RED, 3),
    series(v1S3Flux, '#000', 3)
  ],
  texts: [
    { text: 'A)', x: 30, y: 143, font: panelFont, color: '#000' },
    { text: 'R (AU)', x: 92, y: 21, font: 'bold 23px ' + FONT, color: BLUE },
    { text: 'Voyager 1 (53-85 keV)', x: 745, y: 137, font: 'bold 26px ' + FONT, color: '#000' },
    { text: 'Sector 3 (+T directed)', x: 740, y: 172, font: 'bold 22px ' + FONT, color: '#000' },
    { text: 'Sector 7 (-T directed)', x: 737, y: 199, font: 'bold 22px ' + FONT, color: RED },
    { text: 'V1/TS', x: 539, y: 228, font: 'bold 26px ' + FONT, color: ORANGE, align: 'left' }
  ]
});

makePanel({
  id: 'panelB', top: 310, height: 340, plotTop: 369, plotBottom: 579, plotLeft: 169, plotRight: 932,
  xMin: 2004, xMax: 2006, xMinor: 0.05, xTicks: v1TimeTicks, xLabels: v1TimeLabels, xPad: 9, timePad: 8,
  rTicks: v1RadiusTicks, rLabels: v1RadiusLabels, rPad: 4,
  yMin: 0.01, yMax: 10, yTicks: ratioTicks, yLabels: ratioLabels,
  yTitle: 'S3/S7', yTitleX: 75,
  datasets: [
    refLine(2004, 2006),
    tsLine(v1TsYear, 0.01, 7),
    series(v1RatioAbove, '#000', 1.8),
    series(v1RatioBelow, RED, 1.8)
  ],
  texts: [
    { text: 'B)', x: 30, y: 473, font: panelFont, color: '#000' },
    { text: 'R (AU)', x: 92, y: 351, font: 'bold 23px ' + FONT, color: BLUE },
    { text: 'V1/TS', x: 539, y: 558, font: 'bold 26px ' + FONT, color: ORANGE, align: 'left' }
  ]
});

makePanel({
  id: 'panelC', top: 630, height: 320, plotTop: 669, plotBottom: 879, plotLeft: 183, plotRight: 945,
  xMin: 2006, xMax: 2011, xMinor: 0.1, xTicks: v2TimeTicks, xLabels: v2TimeLabels, xPad: 9, timePad: 9,
  rTicks: v2RadiusTicks, rLabels: v2RadiusLabels, rPad: 3,
  yMin: 0.1, yMax: 1000, yTicks: v2FluxTicks, yLabels: v2FluxLabels,
  yTitle: '#/(cm\u00B2 s sr MeV)', yTitleX: 79,
  datasets: [
    tsLine(v2TsYear, 0.1, 1000),
    series(v2S7Flux, '#000', 3),
    series(v2S3Flux, RED, 3)
  ],
  texts: [
    { text: 'C)', x: 30, y: 775, font: panelFont, color: '#000' },
    { text: 'R (AU)', x: 114, y: 652, font: 'bold 23px ' + FONT, color: BLUE },
    { text: 'Voyager 2 (40-80 keV)', x: 747, y: 765, font: 'bold 26px ' + FONT, color: '#000' },
    { text: 'Sector 3 (-T directed)', x: 735, y: 798, font: 'bold 22px ' + FONT, color: RED },
    { text: 'Sector 7 (+T directed)', x: 738, y: 827, font: 'bold 22px ' + FONT, color: '#000' },
    { text: 'V2/TS', x: 438, y: 862, font: 'bold 26px ' + FONT, color: ORANGE, align: 'left' }
  ]
});

makePanel({
  id: 'panelD', top: 950, height: 322, plotTop: 1000, plotBottom: 1209, plotLeft: 183, plotRight: 945,
  xMin: 2006, xMax: 2011, xMinor: 0.1, xTicks: v2TimeTicks, xLabels: v2TimeLabels, xPad: 9, timePad: 0,
  rTicks: v2RadiusTicks, rLabels: v2RadiusLabels, rPad: 4,
  yMin: 0.01, yMax: 10, yTicks: ratioTicks, yLabels: ratioLabels,
  yTitle: 'S3/S7', yTitleX: 88,
  datasets: [
    refLine(2006, 2011),
    tsLine(v2TsYear, 0.01, 6.5),
    series(v2RatioAbove, RED, 2),
    series(v2RatioBelow, '#000', 2)
  ],
  texts: [
    { text: 'D)', x: 30, y: 1095, font: panelFont, color: '#000' },
    { text: 'R (AU)', x: 114, y: 982, font: 'bold 23px ' + FONT, color: BLUE },
    { text: 'V2/TS', x: 438, y: 1190, font: 'bold 26px ' + FONT, color: ORANGE, align: 'left' }
  ]
});
</script>
</body>
</html>
